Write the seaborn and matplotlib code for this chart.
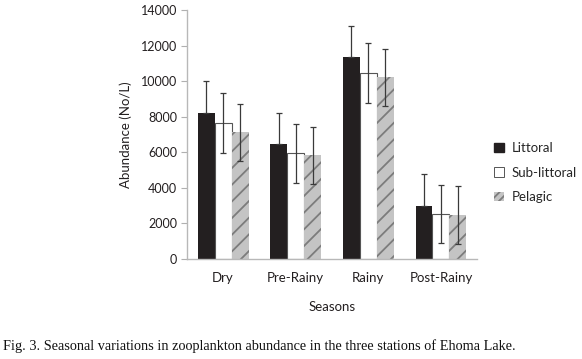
import numpy as np
import pandas as pd
import matplotlib
matplotlib.use("Agg")
import matplotlib.pyplot as plt
import seaborn as sns
from matplotlib.patches import Patch

# values
seasons = ["Dry", "Pre-Rainy", "Rainy", "Post-Rainy"]
stations = ["Littoral", "Sub-littoral", "Pelagic"]
littoral = [8230, 6460, 11340, 3000]
sub_littoral = [7640, 5930, 10460, 2530]
pelagic = [7130, 5820, 10220, 2470]
err_littoral = [1760, 1720, 1760, 1760]
err_sub = [1670, 1660, 1670, 1650]
err_pelagic = [1610, 1600, 1600, 1620]

df = pd.DataFrame({
    "Season": seasons * 3,
    "Station": [s for s in stations for _ in seasons],
    "Abundance": littoral + sub_littoral + pelagic,
})
errs = {"Littoral": err_littoral, "Sub-littoral": err_sub, "Pelagic": err_pelagic}

sns.set_style("white")
plt.rcParams["font.family"] = ["Lato", "DejaVu Sans"]
plt.rcParams["hatch.linewidth"] = 1.3

fig = plt.figure(figsize=(5.82, 3.59), dpi=100)
ax = fig.add_axes([0.321, 0.279, 0.499, 0.693])

palette = {"Littoral": "#231f20", "Sub-littoral": "white", "Pelagic": "#c4c4c4"}
sns.barplot(data=df, x="Season", y="Abundance", hue="Station", order=seasons,
            hue_order=stations, palette=palette, width=0.7, errorbar=None,
            saturation=1, legend=False, ax=ax)

# style the bars and draw the error bars on them
for cont, st in zip(ax.containers, stations):
    xs, ys = [], []
    for bar in cont:
        xs.append(bar.get_x() + bar.get_width() / 2)
        ys.append(bar.get_height())
        if st == "Sub-littoral":
            bar.set_edgecolor("#555555")
            bar.set_linewidth(0.8)
        elif st == "Pelagic":
            bar.set_hatch("//")
            bar.set_edgecolor("#7c7c7c")
            bar.set_linewidth(0)
        else:
            bar.set_edgecolor("none")
    e = np.array(errs[st])
    lower = np.zeros_like(e) if st == "Littoral" else e
    ax.errorbar(xs, ys, yerr=[lower, e], fmt="none", ecolor="#3a3a3a",
                elinewidth=0.9, capsize=2.5, capthick=0.9)

ax.set_ylim(0, 14000)
ax.set_yticks(np.arange(0, 14001, 2000))
ax.set_xlim(-0.5, 3.5)
ax.tick_params(axis="y", left=True, length=4, color="#b0b0b0", labelsize=9,
               labelcolor="#231f20", pad=3)
ax.tick_params(axis="x", bottom=False, labelsize=9.5, labelcolor="#231f20", pad=6)
for side in ["top", "right"]:
    ax.spines[side].set_visible(False)
for side in ["left", "bottom"]:
    ax.spines[side].set_color("#b8b8b8")
    ax.spines[side].set_linewidth(1)
ax.set_xlabel("Seasons", fontsize=9.5, color="#231f20", labelpad=12)
ax.set_ylabel("Abundance (No/L)", fontsize=9.5, color="#231f20", labelpad=6)

handles = [Patch(facecolor="#231f20", edgecolor="#231f20"),
           Patch(facecolor="white", edgecolor="#555555", linewidth=0.7),
           Patch(facecolor="#c4c4c4", edgecolor="#7c7c7c", hatch="////", linewidth=0)]
fig.legend(handles, stations, loc="upper left", bbox_to_anchor=(0.829, 0.637),
           frameon=False, fontsize=9.5, handlelength=0.7, handleheight=0.7,
           handletextpad=0.6, labelspacing=0.95)

fig.text(0.005, 0.025, "Fig. 3. Seasonal variations in zooplankton abundance in the three stations of Ehoma Lake.",
         family="Liberation Serif", fontsize=10.3, color="#111111")

plt.savefig("out.png", dpi=100)
